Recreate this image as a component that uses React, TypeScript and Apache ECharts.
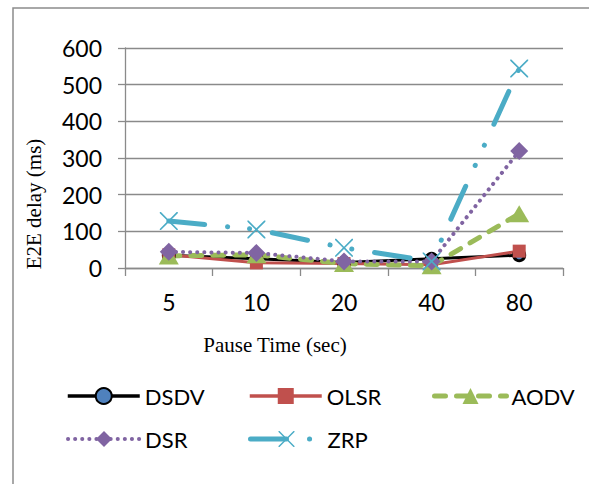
import React, { useEffect, useRef } from "react";
import * as echarts from "echarts";

// Pause time categories (sec)
const categories = ["5", "10", "20", "40", "80"];

// End-to-end delay per protocol (ms)
const dsdv = [35, 25, 15, 25, 35];
const olsr = [36, 14, 12, 9, 46];
const aodv = [33, 36, 12, 6, 148];
const dsr = [44, 41, 18, 18, 319];
const zrp = [128, 105, 55, 18, 544];

const yTicks = { min: 0, max: 600, interval: 100 };

const SANS = "Lato, 'Open Sans', sans-serif";
const SERIF = "'Liberation Serif', 'DejaVu Serif', serif";

const CROSS =
  "path://M0,0L1.3,0L10,8.7L18.7,0L20,0L20,1.3L11.3,10L20,18.7L20,20L18.7,20L10,11.3L1.3,20L0,20L0,18.7L8.7,10L0,1.3Z";

export default function App() {
  const ref = useRef<HTMLDivElement>(null);

  useEffect(() => {
    if (!ref.current) return;
    const chart = echarts.init(ref.current, undefined, { renderer: "svg" });

    const legendItem = (name: string, left: number, top: number, width: number) => ({
      data: [name],
      left,
      top,
      itemWidth: 72,
      itemHeight: 20,
      itemGap: 0,
      padding: 0,
      lineStyle: { width },
      textStyle: { fontFamily: SANS, fontSize: 22, color: "#000" },
    });

    chart.setOption({
      animation: false,
      backgroundColor: "#fff",
      grid: { left: 125, top: 48, width: 438, height: 220 },
      legend: [
        legendItem("DSDV", 66, 385, 3.5),
        legendItem("OLSR", 248, 385, 3.5),
        legendItem("AODV", 432, 385, 5),
        legendItem("DSR", 66, 428, 4),
        legendItem("ZRP", 248, 428, 5),
      ],
      xAxis: {
        type: "category",
        data: categories,
        boundaryGap: true,
        axisLine: { show: true, lineStyle: { color: "#8a8a8a", width: 1.3 } },
        axisTick: { show: true, length: 8, lineStyle: { color: "#8a8a8a", width: 1.3 } },
        axisLabel: { fontFamily: SANS, fontSize: 23, color: "#000", margin: 22 },
        splitLine: { show: false },
      },
      yAxis: {
        type: "value",
        min: yTicks.min,
        max: yTicks.max,
        interval: yTicks.interval,
        axisLine: { show: true, lineStyle: { color: "#8a8a8a", width: 1.3 } },
        axisTick: { show: true, length: 7, lineStyle: { color: "#8a8a8a", width: 1.3 } },
        axisLabel: { fontFamily: SANS, fontSize: 23, color: "#000", margin: 23 },
        splitLine: { show: true, lineStyle: { color: "#8a8a8a", width: 1.3 } },
      },
      graphic: [
        {
          type: "rect",
          shape: { x: 13, y: 8, width: 700, height: 600 },
          style: { fill: "none", stroke: "#8c8c8c", lineWidth: 1.5 },
          silent: true,
          z: -1,
        },
        {
          type: "text",
          x: 34,
          y: 204,
          rotation: Math.PI / 2,
          style: {
            text: "E2E delay (ms)",
            font: `21px ${SERIF}`,
            fill: "#000",
            align: "center",
            verticalAlign: "middle",
          },
        },
        {
          type: "text",
          x: 275,
          y: 345,
          style: {
            text: "Pause Time (sec)",
            font: `21px ${SERIF}`,
            fill: "#000",
            align: "center",
            verticalAlign: "middle",
          },
        },
      ],
      series: [
        {
          name: "DSDV",
          type: "line",
          data: dsdv,
          symbol: "circle",
          symbolSize: 11,
          lineStyle: { color: "#000", width: 3 },
          itemStyle: { color: "#4F81BD", borderColor: "#000", borderWidth: 3 },
        },
        {
          name: "OLSR",
          type: "line",
          data: olsr,
          symbol: "rect",
          symbolSize: 13,
          lineStyle: { color: "#C0504D", width: 3 },
          itemStyle: { color: "#C0504D" },
        },
        {
          name: "AODV",
          type: "line",
          data: aodv,
          symbol: "triangle",
          symbolSize: [20, 17],
          lineStyle: { color: "#9BBB59", width: 5, type: [11, 11], cap: "round" },
          itemStyle: { color: "#9BBB59" },
        },
        {
          name: "DSR",
          type: "line",
          data: dsr,
          symbol: "diamond",
          symbolSize: 18,
          lineStyle: { color: "#8064A2", width: 4, type: [0.1, 7], cap: "round" },
          itemStyle: { color: "#8064A2" },
        },
        {
          name: "ZRP",
          type: "line",
          data: zrp,
          symbol: CROSS,
          symbolSize: 18,
          lineStyle: {
            color: "#4BACC6",
            width: 5,
            type: [36, 23, 0.1, 22, 0.1, 23],
            cap: "round",
          },
          itemStyle: { color: "#4BACC6" },
        },
      ],
    });

    return () => chart.dispose();
  }, []);

  return (
    <div
      ref={ref}
      style={{ position: "absolute", left: 0, top: 0, width: 589, height: 484, background: "#fff" }}
    />
  );
}
